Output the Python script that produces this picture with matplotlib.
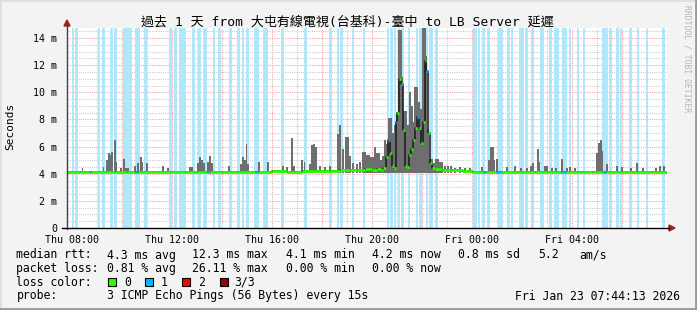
import numpy as np
import matplotlib
matplotlib.use('Agg')
import matplotlib.pyplot as plt
from matplotlib.patches import Rectangle, Polygon
from matplotlib.lines import Line2D

plt.rcParams['font.family'] = ['DejaVu Sans Mono', 'Noto Sans CJK TC']

title = '過去 1 天 from 大屯有線電視(台基科)-臺中 to LB Server 延遲'

# time axis in hours since Thu 00:00 (graph spans Thu 07:47 -> Fri 07:47)
t_start = 7.788
t_end = 31.788

xtick_hours = [8, 12, 16, 20, 24, 28]
xtick_labels = ['Thu 08:00', 'Thu 12:00', 'Thu 16:00', 'Thu 20:00', 'Fri 00:00', 'Fri 04:00']
ytick_ms = [0, 2, 4, 6, 8, 10, 12, 14]
ytick_labels = ['0', '2 m', '4 m', '6 m', '8 m', '10 m', '12 m', '14 m']

# intervals with 1/3 packet loss (light blue background)
loss_start = [7.97, 8.12, 9.02, 9.19, 9.51, 9.68, 10.04, 10.23, 10.51, 10.88,
              11.88, 12.08, 12.27, 12.44, 12.79, 13.03, 13.24, 13.63, 13.83, 14.26,
              14.60, 14.80, 14.96, 15.28, 15.64, 16.35, 17.27, 18.27, 18.58, 18.71,
              19.18, 19.62, 20.58, 20.71, 20.88, 21.02, 21.15, 21.44, 21.74, 21.88,
              22.15, 22.28, 22.52, 24.04, 24.22, 24.38, 24.60, 25.03, 25.39, 25.54,
              25.87, 26.10, 26.34, 26.69, 27.07, 27.27, 27.59, 27.87, 28.19, 28.43,
              29.19, 29.46, 29.76, 29.90, 30.27, 30.60, 30.96, 31.59]
loss_end = [8.01, 8.19, 9.08, 9.27, 9.59, 9.74, 10.18, 10.34, 10.66, 10.95,
            11.96, 12.15, 12.38, 12.51, 12.86, 13.11, 13.35, 13.67, 13.91, 14.36,
            14.67, 14.84, 15.03, 15.44, 15.78, 16.43, 17.35, 18.36, 18.64, 18.79,
            19.22, 19.66, 20.64, 20.78, 20.92, 21.06, 21.22, 21.48, 21.78, 21.94,
            22.19, 22.38, 22.60, 24.14, 24.26, 24.46, 24.66, 25.19, 25.46, 25.60,
            26.03, 26.20, 26.43, 26.83, 27.16, 27.43, 27.76, 27.92, 28.23, 28.47,
            29.38, 29.54, 29.84, 29.96, 30.36, 30.64, 31.00, 31.67]

# smoke (max rtt of the pings) in ms
spike_hours = [8.41, 9.25, 9.39, 9.47, 9.53, 9.58, 9.71, 9.77, 9.95, 10.07,
               10.15, 10.23, 10.51, 10.63, 10.75, 10.81, 10.99, 11.63, 11.83, 12.71,
               12.79, 13.03, 13.11, 13.19, 13.27, 13.43, 13.51, 13.59, 14.27, 14.75,
               14.83, 14.91, 14.97, 15.03, 15.47, 15.83, 16.43, 16.59, 16.79, 16.87,
               17.19, 17.29, 17.51, 17.59, 17.67, 17.75, 17.91, 18.11, 18.31, 18.63,
               18.71, 18.83, 18.95, 19.03, 19.11, 19.23, 19.39, 19.51, 19.63, 19.71,
               19.79, 19.87, 19.95, 20.03, 20.11, 20.19, 20.27, 20.35, 20.43, 20.51,
               20.59, 20.67, 20.75, 20.83, 20.91, 20.99, 21.07, 21.15, 21.21, 21.27,
               21.35, 21.43, 21.51, 21.59, 21.65, 21.71, 21.79, 21.87, 21.95, 22.03,
               22.11, 22.17, 22.23, 22.31, 22.39, 22.47, 22.55, 22.63, 22.71, 22.79,
               22.91, 23.03, 23.15, 23.31, 23.51, 23.71, 23.91, 24.39, 24.67, 24.75,
               24.83, 24.89, 24.99, 25.39, 25.71, 25.95, 26.19, 26.35, 26.43, 26.63,
               26.69, 26.91, 26.99, 27.19, 27.35, 27.59, 27.79, 27.91, 28.11, 28.99,
               29.07, 29.15, 29.21, 29.39, 29.79, 29.99, 30.35, 30.59, 30.83, 31.35,
               31.51, 31.67]
spike_top = [4.4, 4.5, 5.0, 5.5, 5.4, 5.6, 6.5, 4.9, 4.4, 5.1,
             4.4, 4.4, 4.6, 4.8, 5.2, 4.9, 4.8, 4.6, 4.4, 4.5,
             4.5, 4.8, 5.2, 5.0, 4.8, 4.9, 5.3, 4.8, 4.6, 4.7,
             5.2, 5.0, 6.2, 4.7, 4.9, 4.9, 4.6, 4.5, 6.6, 4.6,
             5.0, 4.9, 4.7, 6.1, 6.2, 6.0, 4.6, 4.5, 4.6, 6.9,
             7.6, 5.8, 6.7, 6.7, 5.3, 4.8, 4.7, 4.9, 5.6, 5.6,
             5.4, 5.4, 5.2, 5.2, 6.0, 5.5, 5.5, 5.0, 5.3, 6.5,
             6.2, 8.1, 8.1, 7.0, 7.6, 8.3, 14.6, 14.6, 11.1, 8.6,
             8.6, 7.6, 10.0, 9.0, 7.8, 10.4, 10.4, 9.3, 8.8, 14.8,
             14.8, 12.7, 7.3, 5.1, 5.1, 4.8, 5.1, 5.1, 4.9, 4.9,
             4.6, 4.6, 4.6, 4.4, 4.5, 4.4, 4.4, 4.5, 5.0, 6.0,
             6.0, 5.0, 5.1, 4.5, 4.6, 4.4, 4.4, 4.6, 4.8, 5.8,
             4.9, 4.6, 4.6, 4.4, 4.4, 5.1, 4.4, 4.5, 4.4, 5.5,
             6.3, 6.5, 5.7, 4.7, 4.6, 4.5, 4.4, 4.8, 4.4, 4.4,
             4.6, 4.6]
smoke_floor = 4.05

# median rtt (ms) and number of lost pings per step
median_hours = [7.79, 8.30, 8.65, 8.75, 9.30, 9.70, 10.20, 10.50, 10.62, 11.20,
                11.90, 12.50, 13.00, 13.40, 13.50, 14.00, 14.60, 15.30, 15.42, 16.00,
                16.60, 17.20, 17.80, 18.30, 18.70, 19.10, 19.40, 19.70, 20.00, 20.20,
                20.35, 20.43, 20.55, 20.63, 20.71, 20.79, 20.87, 20.93, 20.99, 21.07,
                21.15, 21.23, 21.31, 21.39, 21.47, 21.55, 21.63, 21.71, 21.79, 21.87,
                21.95, 22.03, 22.09, 22.15, 22.23, 22.31, 22.39, 22.51, 22.80, 23.20,
                23.60, 24.00, 24.43, 24.55, 24.95, 25.15, 25.80, 26.50, 27.00, 27.55,
                27.75, 28.30, 28.80, 29.23, 29.35, 30.00, 30.60, 31.20, 31.79]
median_ms = [4.12, 4.10, 4.12, 4.10, 4.14, 4.12, 4.10, 4.14, 4.12, 4.10,
             4.12, 4.10, 4.14, 4.12, 4.12, 4.15, 4.12, 4.14, 4.15, 4.18,
             4.15, 4.18, 4.20, 4.18, 4.25, 4.30, 4.25, 4.32, 4.28, 4.35,
             4.30, 4.40, 5.20, 6.50, 5.50, 4.60, 4.40, 7.80, 8.50, 11.0,
             10.6, 7.20, 4.60, 4.50, 5.40, 5.80, 6.50, 7.40, 8.20, 7.40,
             6.30, 7.80, 12.3, 11.6, 7.00, 4.80, 4.40, 4.35, 4.30, 4.25,
             4.20, 4.15, 4.14, 4.14, 4.12, 4.14, 4.12, 4.15, 4.12, 4.14,
             4.12, 4.15, 4.12, 4.14, 4.15, 4.12, 4.14, 4.12, 4.12]
median_loss = [0, 0, 1, 0, 0, 0, 0, 1, 0, 0,
               0, 0, 0, 1, 0, 0, 0, 1, 0, 0,
               0, 0, 0, 0, 0, 0, 0, 0, 0, 0,
               0, 0, 0, 1, 0, 0, 0, 1, 0, 0,
               1, 0, 0, 0, 0, 0, 0, 0, 1, 0,
               0, 0, 0, 1, 0, 0, 0, 0, 0, 0,
               0, 0, 1, 0, 1, 0, 0, 0, 0, 1,
               0, 0, 0, 1, 0, 0, 0, 0, 0]

loss_colors = ['#26ff00', '#00b8ff', '#ff0000', '#a00000']
loss_names = ['0', '1', '2', '3/3']

W, H = 697, 310


def fx(px):
    return px / W


def fy(py):
    return 1 - py / H


def plot_smokeping():
    fig = plt.figure(figsize=(W / 100, H / 100), dpi=100, facecolor='#f3f3f3')

    # outer frame
    fig.add_artist(Line2D([0, 1], [fy(0.5), fy(0.5)], color='#dcdcdc', lw=1.2))
    fig.add_artist(Line2D([fx(0.5), fx(0.5)], [0, 1], color='#dcdcdc', lw=1.2))
    fig.add_artist(Line2D([0, 1], [fy(H - 1), fy(H - 1)], color='#9a9a9a', lw=2))
    fig.add_artist(Line2D([fx(W - 1), fx(W - 1)], [0, 1], color='#9a9a9a', lw=2))

    ax = fig.add_axes([fx(67), fy(228), 600 / W, 200 / H])
    ax.set_facecolor('white')
    for s in ax.spines.values():
        s.set_visible(False)
    ax.set_xlim(t_start, t_end)
    ax.set_ylim(0, 14.74)

    # grid
    for h in np.arange(8, 32, 1):
        col = '#f4a4a4' if h % 2 == 0 else '#cccccc'
        ax.axvline(h, color=col, lw=0.8, ls=(0, (1, 1)), zorder=0.5)
    for v in np.arange(0.5, 14.6, 0.5):
        col = '#f4a4a4' if v % 2 == 0 else '#cccccc'
        ax.axhline(v, color=col, lw=0.8, ls=(0, (1, 1)), zorder=0.5)

    # loss background
    for s, e in zip(loss_start, loss_end):
        ax.axvspan(s, e, facecolor='#aee6fa', edgecolor='#aee6fa', lw=0.6, zorder=1)

    # smoke
    top = np.array(spike_top)
    ax.bar(spike_hours, top - smoke_floor, bottom=smoke_floor, width=0.07,
           color='#6e6e6e', lw=0, zorder=2)

    # median line
    ax.step(median_hours, median_ms, where='post', color='#1a1a1a', lw=1.1, zorder=3)
    seg_col = [loss_colors[l] for l in median_loss[:-1]]
    ax.hlines(median_ms[:-1], median_hours[:-1], median_hours[1:], colors=seg_col,
              lw=2, zorder=4)

    ax.set_xticks(xtick_hours, xtick_labels)
    ax.set_yticks(ytick_ms, ytick_labels)
    ax.tick_params(axis='x', length=0, pad=5, labelsize=7.2)
    ax.tick_params(axis='y', length=0, pad=7, labelsize=7.2)

    # axes lines and arrows
    fig.add_artist(Line2D([fx(67), fx(67)], [fy(229), fy(24)], color='#404040', lw=1))
    fig.add_artist(Line2D([fx(62), fx(669)], [fy(228), fy(228)], color='#000000', lw=1))
    fig.add_artist(Polygon([[fx(64), fy(26)], [fx(70), fy(26)], [fx(67), fy(20)]],
                           closed=True, color='#a02020'))
    fig.add_artist(Polygon([[fx(669), fy(225)], [fx(669), fy(231)], [fx(675), fy(228)]],
                           closed=True, color='#a02020'))

    fig.text(fx(347), fy(22), title, ha='center', va='center', fontsize=9.4, color='#000000')
    fig.text(fx(10), fy(126), 'Seconds', rotation=90, ha='center', va='center', fontsize=8)
    fig.text(fx(687), fy(59), 'RRDTOOL / TOBI OETIKER', rotation=-90, ha='center',
             va='center', fontsize=5.8, color='#b4b4b4')

    # legend
    fs = 8.3
    row1, row2, row3, row4 = 255, 268.5, 282, 296
    fig.text(fx(16.4), fy(row1), 'median rtt:', va='center', fontsize=fs)
    for x, s in zip([106.7, 192.4, 285.8, 372.4, 457.8, 537.8, 579],
                    ['4.3 ms avg', '12.3 ms max', '4.1 ms min', '4.2 ms now',
                     '0.8 ms sd', '5.2', 'am/s']):
        fig.text(fx(x), fy(row1), s, va='center', fontsize=fs)
    fig.text(fx(16.4), fy(row2), 'packet loss:', va='center', fontsize=fs)
    for x, s in zip([106.7, 192.4, 285.8, 372.4],
                    ['0.81 % avg', '26.11 % max', '0.00 % min', '0.00 % now']):
        fig.text(fx(x), fy(row2), s, va='center', fontsize=fs)
    fig.text(fx(16.4), fy(row3), 'loss color:', va='center', fontsize=fs)
    for bx, tx, c, n in zip([108, 145, 182, 220], [124.4, 161, 197.8, 234],
                            loss_colors, loss_names):
        fig.add_artist(Rectangle((fx(bx), fy(286)), 8.4 / W, 7.7 / H, facecolor=c,
                                 edgecolor='#000000', lw=0.8))
        fig.text(fx(tx), fy(row3), n, va='center', fontsize=fs)
    fig.text(fx(16.4), fy(row4), 'probe:', va='center', fontsize=fs)
    fig.text(fx(106.7), fy(row4), '3 ICMP Echo Pings (56 Bytes) every 15s', va='center', fontsize=fs)
    fig.text(fx(680), fy(row4), 'Fri Jan 23 07:44:13 2026', ha='right', va='center', fontsize=fs)

    fig.savefig('out.png', dpi=100, facecolor=fig.get_facecolor())


if __name__ == "__main__":
    plot_smokeping()
